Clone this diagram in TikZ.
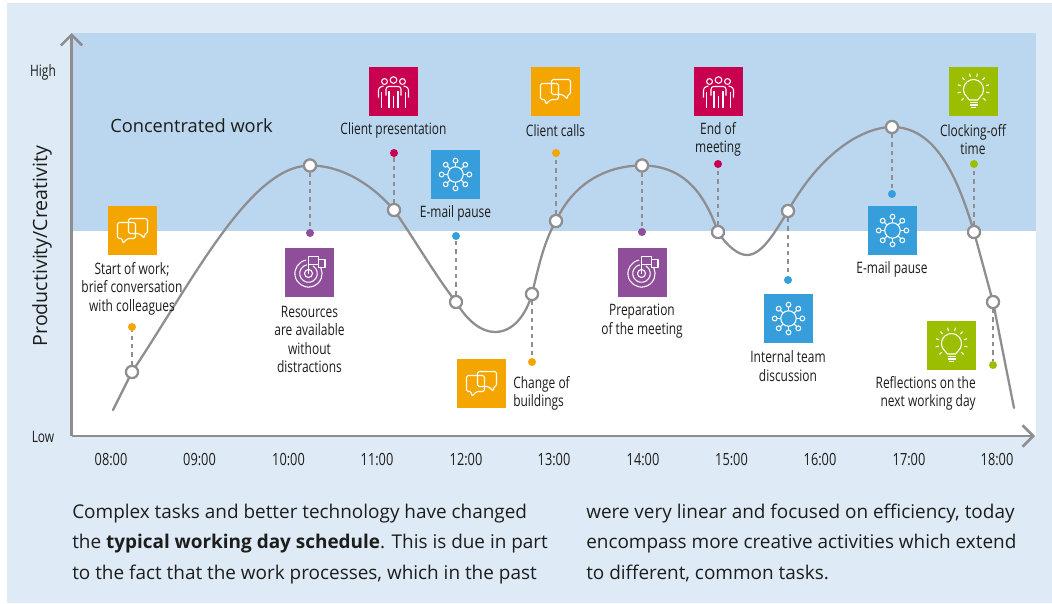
\documentclass[tikz,border=0pt]{standalone}
\usepackage{fontspec}
\setmainfont{Open Sans}
\newfontfamily\condf[FakeStretch=0.76]{Open Sans}
\usetikzlibrary{arrows.meta}
\definecolor{panel}{HTML}{DEEAF6}
\definecolor{band}{HTML}{BAD7EF}
\definecolor{cor}{HTML}{F5A500}
\definecolor{ccr}{HTML}{C90050}
\definecolor{cbl}{HTML}{369FDB}
\definecolor{cpu}{HTML}{8F4E99}
\definecolor{cgr}{HTML}{9BBF00}
\definecolor{axisc}{HTML}{8E8D90}
\definecolor{txt}{HTML}{1D1D1B}
\tikzset{
  x=0.75pt,y=-0.75pt,
  iconbox/.style={draw=none,fill=#1,minimum size=36.75pt,inner sep=0pt,outer sep=0pt},
  ringpt/.style={circle,draw=axisc,fill=white,line width=1.6pt,minimum size=9pt,inner sep=0pt},
  dotpt/.style={circle,fill=#1,minimum size=6pt,inner sep=0pt},
  conn/.style={draw=axisc,line width=1.3pt,dash pattern=on 3.2pt off 3pt},
  lab/.style={font=\condf\fontsize{11.8}{13.9}\selectfont,text=txt,align=center,inner sep=0pt},
  tick/.style={font=\condf\fontsize{12.6}{13.9}\selectfont,text=txt,inner sep=0pt},
  axlab/.style={font=\condf\fontsize{11.8}{13.9}\selectfont,text=txt,inner sep=0pt},
  bodyt/.style={font=\fontsize{14.2}{17}\selectfont,text=txt,inner sep=0pt,anchor=base west},
  axisl/.style={draw=axisc,line width=1.9pt,-{Straight Barb[length=8pt,width=16pt,line width=1.9pt]}},
  ic/.style={draw=white,line width=0.8pt,fill=none,line join=round},
}
\newcommand{\iconchat}{%
  \draw[ic,rounded corners=1.2pt] (-15,-8) -- (3,-8) -- (3,8) -- (-5,8) -- (-10,13) -- (-10,8) -- (-15,8) -- cycle;
  \draw[ic,rounded corners=1.2pt] (-4,-12) -- (15,-12) -- (15,3) -- (12,3) -- (12,8) -- (7,3) -- (-4,3) -- cycle;
}
\newcommand{\iconpeople}{%
  \draw[ic] (0,-11.5) circle[radius=2.5pt];
  \draw[ic] (-9,-10) circle[radius=2.2pt];
  \draw[ic] (9,-10) circle[radius=2.2pt];
  \draw[ic,rounded corners=2pt] (-7.5,4) -- (-7.5,-5) -- (7.5,-5) -- (7.5,4);
  \draw[ic] (-4.5,-1) -- (-4.5,16) (4.5,-1) -- (4.5,16) (0,4) -- (0,16);
  \draw[ic,rounded corners=2pt] (-15,6) -- (-15,-4) -- (-10,-5.5);
  \draw[ic,rounded corners=2pt] (15,6) -- (15,-4) -- (10,-5.5);
  \draw[ic] (-12,0) -- (-12,16) (12,0) -- (12,16);
}
\newcommand{\iconnet}{%
  \draw[ic] (0,0) circle[radius=5.8pt];
  \foreach \a in {0,45,...,315}{
    \draw[ic] (\a:5.8pt) -- (\a:8.6pt);
    \draw[ic] (\a:10.4pt) circle[radius=1.8pt];
  }
}
\newcommand{\icontarget}{%
  \begin{scope}[shift={(-1,1)}]
    \draw[ic] (100:10.2pt) arc[start angle=100,end angle=385,radius=10.2pt];
    \draw[ic] (100:6.6pt) arc[start angle=100,end angle=420,radius=6.6pt];
    \draw[ic] (0,0) circle[radius=3pt];
    \draw[ic] (0,0) -- (0,-17.5);
    \draw[ic] (0,-17) rectangle (10,-9);
    \draw[ic] (10,-14) -- (16.5,-14) -- (16.5,-6) -- (10,-6) -- (10,-9);
  \end{scope}
}
\newcommand{\iconbulb}{%
  \begin{scope}[shift={(0,-2)}]
    \draw[ic] (-50:7.5pt) arc[start angle=-50,end angle=230,radius=7.5pt] -- (-4,10.5) -- (4,10.5) -- cycle;
    \foreach \a in {-42,-12,17,47,76,104,133,163,192,222}
      \draw[ic] (\a:9.8pt) -- (\a:12.2pt);
    \draw[ic] (-4,13) -- (4,13) (-4,15.5) -- (4,15.5) (-2.5,18) -- (2.5,18);
  \end{scope}
}
\begin{document}
\begin{tikzpicture}
\useasboundingbox (0,0) rectangle (1052,603);
\fill[panel] (7,3) rectangle (1052,603);
\fill[white] (72,33) rectangle (1036,436);
\fill[band] (72,33) rectangle (1036,231);

% axes
\coordinate (org) at (71.5,436);
\coordinate (ytop) at (71.5,33);
\coordinate (xend) at (1035,436);
\draw[axisl] (org) -- (ytop);
\draw[axisl] (org) -- (xend);

% anchor points on the curve
\node[ringpt] (w1) at (132,372) {};
\node[ringpt] (w2) at (310,165.5) {};
\node[ringpt] (w3) at (394,210) {};
\node[ringpt] (w4) at (456,302) {};
\node[ringpt] (w5) at (532,294) {};
\node[ringpt] (w6) at (556,221) {};
\node[ringpt] (w7) at (642,165.5) {};
\node[ringpt] (w8) at (718,232) {};
\node[ringpt] (w9) at (788,211) {};
\node[ringpt] (w10) at (892,127) {};
\node[ringpt] (w11) at (974,232) {};
\node[ringpt] (w12) at (993,302) {};

\node[dotpt=cor] (d1) at (132,327) {};
\node[dotpt=cpu] (d2) at (310,233) {};
\node[dotpt=ccr] (d3) at (394,153) {};
\node[dotpt=cbl] (d4) at (456,236) {};
\node[dotpt=cor] (d5) at (532,362) {};
\node[dotpt=cor] (d6) at (556,153) {};
\node[dotpt=cpu] (d7) at (642,232) {};
\node[dotpt=ccr] (d8) at (718,164) {};
\node[dotpt=cbl] (d9) at (788,280) {};
\node[dotpt=cbl] (d10) at (892,194) {};
\node[dotpt=cgr] (d11) at (974,164) {};
\node[dotpt=cgr] (d12) at (993,365) {};

\foreach \i in {1,...,12} \draw[conn] (w\i) -- (d\i);

% curve
\coordinate (c0) at (113,410);
\coordinate (c13) at (1014,408);
\coordinate (m1) at (495,332);
\coordinate (m2) at (747,255);
\draw[axisc,line width=1.7pt,line cap=round]
  (c0) -- (w1.center)
  .. controls (192,282) and (250,165.5) .. (w2.center)
  .. controls (345,165.5) and (375,188) .. (w3.center)
  .. controls (415,240) and (435,275) .. (w4.center)
  .. controls (468,322) and (482,332) .. (m1)
  .. controls (513,332) and (526,315) .. (w5.center)
  .. controls (540,260) and (545,240) .. (w6.center)
  .. controls (575,180) and (610,165.5) .. (w7.center)
  .. controls (685,165.5) and (705,195) .. (w8.center)
  .. controls (727,246) and (738,255) .. (m2)
  .. controls (762,255) and (775,232) .. (w9.center)
  .. controls (822,150) and (865,127) .. (w10.center)
  .. controls (935,127) and (957,175) .. (w11.center)
  -- (w12.center) -- (c13);
\foreach \i in {1,...,12} \node[ringpt] at (w\i) {};

% icon boxes
\node[iconbox=cor] (b1) at (132.5,230.5) {};
\node[iconbox=cpu] (b2) at (309.5,272.5) {};
\node[iconbox=ccr] (b3) at (393.5,91.5) {};
\node[iconbox=cbl] (b4) at (455.5,174.5) {};
\node[iconbox=cor] (b5) at (481.5,383.5) {};
\node[iconbox=cor] (b6) at (555.5,91.5) {};
\node[iconbox=cpu] (b7) at (642.5,272.5) {};
\node[iconbox=ccr] (b8) at (718.5,91.5) {};
\node[iconbox=cbl] (b9) at (788.5,318.5) {};
\node[iconbox=cbl] (b10) at (892.5,230.5) {};
\node[iconbox=cgr] (b11) at (973.5,91.5) {};
\node[iconbox=cgr] (b12) at (951.5,345.5) {};

\begin{scope}[shift={(b1.center)}]\iconchat\end{scope}
\begin{scope}[shift={(b5.center)}]\iconchat\end{scope}
\begin{scope}[shift={(b6.center)}]\iconchat\end{scope}
\begin{scope}[shift={(b3.center)}]\iconpeople\end{scope}
\begin{scope}[shift={(b8.center)}]\iconpeople\end{scope}
\begin{scope}[shift={(b4.center)}]\iconnet\end{scope}
\begin{scope}[shift={(b9.center)}]\iconnet\end{scope}
\begin{scope}[shift={(b10.center)}]\iconnet\end{scope}
\begin{scope}[shift={(b2.center)}]\icontarget\end{scope}
\begin{scope}[shift={(b7.center)}]\icontarget\end{scope}
\begin{scope}[shift={(b11.center)}]\iconbulb\end{scope}
\begin{scope}[shift={(b12.center)}]\iconbulb\end{scope}

% labels
\node[lab] (l1) at (132,288.5) {Start of work;\\brief conversation\\with colleagues};
\node[lab] (l2) at (309.5,339.5) {Resources\\are available\\without\\distractions};
\node[lab] (l3) at (393.5,130.5) {Client presentation};
\node[lab] (l4) at (455.5,213.5) {E-mail pause};
\node[lab,align=left,anchor=west] (l5) at (513,393.5) {Change of\\buildings};
\node[lab] (l6) at (555.5,130.5) {Client calls};
\node[lab] (l7) at (642,321) {Preparation\\of the meeting};
\node[lab] (l8) at (718,139.5) {End of\\meeting};
\node[lab] (l9) at (788,366) {Internal team\\discussion};
\node[lab] (l10) at (892,269.5) {E-mail pause};
\node[lab] (l11) at (973,139.5) {Clocking-off\\time};
\node[lab,align=right,anchor=east] (l12) at (976,393.5) {Reflections on the\\next working day};

\node[tick] (t8) at (111,460) {08:00};
\node[tick] (t9) at (199.5,460) {09:00};
\node[tick] (t10) at (288.5,460) {10:00};
\node[tick] (t11) at (377,460) {11:00};
\node[tick] (t12) at (466,460) {12:00};
\node[tick] (t13) at (554,460) {13:00};
\node[tick] (t14) at (643,460) {14:00};
\node[tick] (t15) at (731.5,460) {15:00};
\node[tick] (t16) at (820,460) {16:00};
\node[tick] (t17) at (909,460) {17:00};
\node[tick] (t18) at (997,460) {18:00};

\node[axlab] (high) at (43,72) {High};
\node[axlab] (low) at (43,437) {Low};
\node[font=\fontsize{14.7}{16}\selectfont,text=txt,inner sep=0pt,rotate=90] (ylab) at (42,246) {Productivity/Creativity};
\node[font=\fontsize{13.7}{16}\selectfont,text=txt,inner sep=0pt,anchor=west] (conc) at (110,126) {Concentrated work};

\node[bodyt] (p1) at (72,518) {Complex tasks and better technology have changed};
\node[bodyt] (p2) at (72,548.5) {the \textbf{typical working day schedule}. This is due in part};
\node[bodyt] (p3) at (72,579) {to the fact that the work processes, which in the past};
\node[bodyt] (p4) at (586,518) {were very linear and focused on efficiency, today};
\node[bodyt] (p5) at (586,548.5) {encompass more creative activities which extend};
\node[bodyt] (p6) at (586,579) {to different, common tasks.};
\end{tikzpicture}
\end{document}
